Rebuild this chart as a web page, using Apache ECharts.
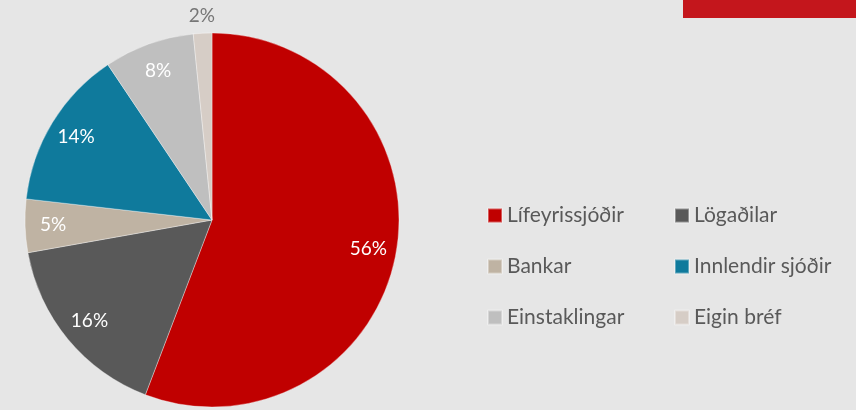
<!DOCTYPE html>
<html>
<head>
<meta charset="utf-8">
<script src="https://cdn.jsdelivr.net/npm/echarts@6/dist/echarts.min.js"></script>
<style>
  html, body { margin: 0; padding: 0; background: #e6e6e6; }
  #pie { width: 856px; height: 410px; }
</style>
</head>
<body>
<div id="pie"></div>
<script>
// hluthafar - skipting
const categories = ['Lífeyrissjóðir', 'Lögaðilar', 'Bankar', 'Innlendir sjóðir', 'Einstaklingar', 'Eigin bréf'];
const shares = [55.8, 16.4, 4.6, 13.8, 7.8, 1.6];
const colors = ['#c00000', '#595959', '#bfb3a3', '#0f7a9c', '#bfbfbf', '#d6cdc6'];

const font = 'Lato, "Open Sans", sans-serif';
const center = [212, 220];
const seriesData = categories.map((name, i) => ({ name: name, value: shares[i] }));

const fmt = p => Math.round(p.value) + '%';

const option = {
  backgroundColor: '#e6e6e6',
  color: colors,
  animation: false,
  graphic: [
    { type: 'rect', shape: { x: 683, y: 0, width: 173, height: 18 }, style: { fill: '#c4161c' } }
  ],
  legend: {
    left: 487,
    top: 205,
    padding: 0,
    width: 370,
    itemWidth: 14,
    itemHeight: 14,
    itemGap: 30,
    icon: 'rect',
    selectedMode: false,
    data: categories,
    textStyle: { color: '#595959', fontSize: 21, fontFamily: font, width: 137, lineHeight: 21 }
  },
  series: [
    {
      // the pie itself
      type: 'pie',
      center: center,
      radius: 187,
      startAngle: 90,
      clockwise: true,
      silent: true,
      label: { show: false },
      labelLine: { show: false },
      itemStyle: { borderColor: 'rgba(255,255,255,0.35)', borderWidth: 1 },
      data: seriesData
    },
    {
      // ring only used to place labels inside slices
      type: 'pie',
      center: center,
      radius: [146, 166],
      startAngle: 90,
      silent: true,
      itemStyle: { color: 'transparent' },
      label: { show: true, position: 'inside', formatter: fmt, color: '#ffffff', fontSize: 19, fontFamily: font },
      labelLine: { show: false },
      data: seriesData.map((d, i) => ({ name: d.name, value: d.value, label: { show: i < 5 } }))
    },
    {
      // small slice label sits outside
      type: 'pie',
      center: center,
      radius: [192, 210],
      startAngle: 90,
      silent: true,
      itemStyle: { color: 'transparent' },
      label: { show: true, position: 'inside', formatter: fmt, color: '#767676', fontSize: 19, fontFamily: font },
      labelLine: { show: false },
      data: seriesData.map((d, i) => ({ name: d.name, value: d.value, label: { show: i === 5 } }))
    }
  ]
};

const chart = echarts.init(document.getElementById('pie'));
chart.setOption(option);
</script>
</body>
</html>
